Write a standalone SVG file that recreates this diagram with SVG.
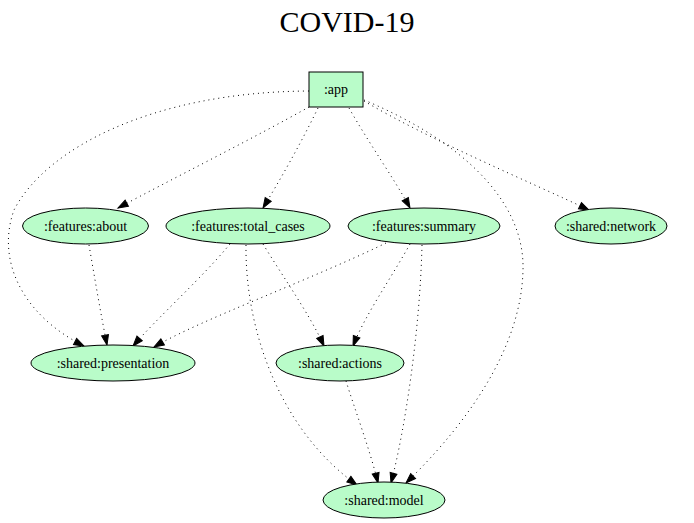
<svg xmlns="http://www.w3.org/2000/svg" width="694" height="523" viewBox="0 0 694 523">
<style>
.n{fill:#b9fcc9;stroke:#000;stroke-width:1}
.t{font-family:"Liberation Serif",serif;font-size:14px;text-anchor:middle;fill:#000}
.e{fill:none;stroke:#000;stroke-width:1;stroke-dasharray:1,4;marker-end:url(#a)}
</style>
<defs>
<marker id="a" markerUnits="userSpaceOnUse" markerWidth="12" markerHeight="10" refX="10" refY="4" orient="auto" viewBox="0 0 12 8" overflow="visible">
<path d="M0,0.5 L10,4 L0,7.5 z" fill="#000" stroke="#000"/>
</marker>
</defs>
<rect width="694" height="523" fill="#fff"/>
<text x="347" y="32" style="font-family:'Liberation Serif',serif;font-size:30px;text-anchor:middle">COVID-19</text>
<g id="edges">
<path class="e" d="M309,107 C250,140 170,180 118,208"/>
<path class="e" d="M318,108 C300,145 280,180 263,208"/>
<path class="e" d="M349,108 C370,145 395,180 410,208"/>
<path class="e" d="M364,101 C430,140 530,182 589,210"/>
<path class="e" d="M364,100 C460,140 525,200 523,270 C521,360 450,440 406,483"/>
<path class="e" d="M309,91 C150,92 45,150 14,210 C-4,260 22,315 84,346"/>
<path class="e" d="M89,245 C95,280 101,315 107,345"/>
<path class="e" d="M230,244 C200,280 160,315 133,346"/>
<path class="e" d="M386,243 C310,280 200,320 154,347"/>
<path class="e" d="M263,244 C285,280 310,315 324,346"/>
<path class="e" d="M410,244 C390,280 365,315 353,346"/>
<path class="e" d="M246,245 C245,330 280,430 357,485"/>
<path class="e" d="M422,245 C420,330 405,430 391,483"/>
<path class="e" d="M346,381 C355,410 370,450 378,483"/>
</g>
<g id="app"><rect class="n" x="309" y="72" width="54" height="35"/><text class="t" x="336" y="94">:app</text></g>
<g id="about"><ellipse class="n" cx="85.5" cy="226" rx="63" ry="18"/><text class="t" x="85.5" y="231">:features:about</text></g>
<g id="total_cases"><ellipse class="n" cx="248" cy="226" rx="82" ry="18"/><text class="t" x="248" y="231">:features:total_cases</text></g>
<g id="summary"><ellipse class="n" cx="424" cy="226" rx="76" ry="18"/><text class="t" x="424" y="231">:features:summary</text></g>
<g id="network"><ellipse class="n" cx="611" cy="226" rx="56" ry="18"/><text class="t" x="611" y="231">:shared:network</text></g>
<g id="presentation"><ellipse class="n" cx="113" cy="363" rx="82" ry="18"/><text class="t" x="113" y="368">:shared:presentation</text></g>
<g id="actions"><ellipse class="n" cx="340" cy="363" rx="64" ry="18"/><text class="t" x="340" y="368">:shared:actions</text></g>
<g id="model"><ellipse class="n" cx="384" cy="500" rx="61" ry="18"/><text class="t" x="384" y="505">:shared:model</text></g>
</svg>
